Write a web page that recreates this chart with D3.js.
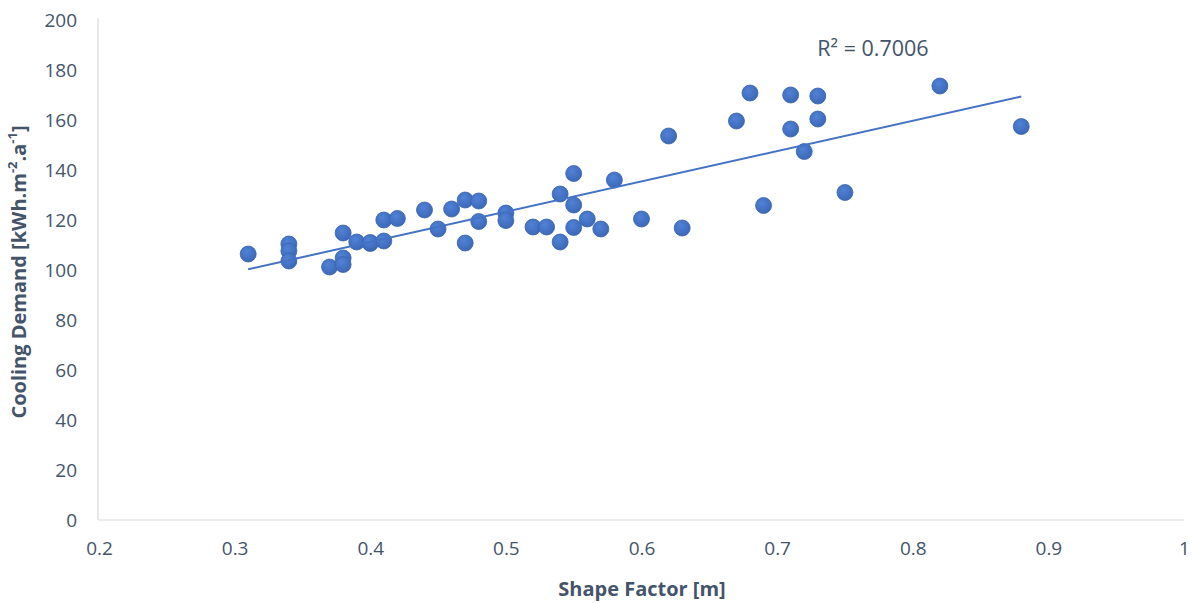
<!DOCTYPE html>
<html>
<head>
<meta charset="utf-8">
<script src="https://cdn.jsdelivr.net/npm/d3@7"></script>
<style>
  html, body { margin: 0; padding: 0; background: #fff; }
  svg { display: block; }
  text { font-family: "Open Sans", "Noto Sans", sans-serif; fill: #44546a; }
</style>
</head>
<body>
<svg id="chart" width="1192" height="603"></svg>
<script>
// Shape factor [m] of each building
const shapeFactor = [
  0.31, 0.34, 0.34, 0.34, 0.37, 0.38, 0.38, 0.38, 0.39, 0.40,
  0.40, 0.41, 0.41, 0.42, 0.44, 0.45, 0.46, 0.47, 0.47, 0.48,
  0.48, 0.50, 0.50, 0.52, 0.53, 0.54, 0.54, 0.55, 0.55, 0.55,
  0.56, 0.57, 0.58, 0.60, 0.62, 0.63, 0.67, 0.68, 0.69, 0.71,
  0.71, 0.72, 0.73, 0.73, 0.75, 0.82, 0.88
];
// Cooling demand [kWh.m-2.a-1] of the same buildings
const coolingDemand = [
  106.4, 110.4, 107.6, 103.6, 101.2, 114.8, 104.8, 102.2, 111.2, 110.6,
  111.0, 111.6, 120.0, 120.6, 124.0, 116.4, 124.4, 128.0, 110.8, 127.6,
  119.4, 122.8, 119.8, 117.2, 117.2, 130.4, 111.2, 138.6, 126.0, 117.0,
  120.4, 116.4, 136.0, 120.4, 153.6, 116.8, 159.6, 170.8, 125.8, 170.0,
  156.4, 147.4, 169.6, 160.4, 131.0, 173.6, 157.4
];
const xTicks = [0.2, 0.3, 0.4, 0.5, 0.6, 0.7, 0.8, 0.9, 1];
const yTicks = [0, 20, 40, 60, 80, 100, 120, 140, 160, 180, 200];
const r2Label = "R² = 0.7006";

const points = shapeFactor.map((x, i) => ({ x, y: coolingDemand[i] }));

const svg = d3.select("#chart");
const plot = { left: 98, right: 1184, top: 20, bottom: 520 };

const x = d3.scaleLinear().domain([0.2, 1]).range([plot.left + 1, plot.right]);
const y = d3.scaleLinear().domain([0, 200]).range([plot.bottom, plot.top]);

// Axis lines
svg.append("line")
  .attr("x1", plot.left).attr("x2", plot.left).attr("y1", plot.top - 2).attr("y2", plot.bottom)
  .attr("stroke", "#d9d9d9").attr("stroke-width", 1.2);
svg.append("line")
  .attr("x1", plot.left).attr("x2", plot.right).attr("y1", plot.bottom).attr("y2", plot.bottom)
  .attr("stroke", "#d9d9d9").attr("stroke-width", 1.2);

// Tick labels
const yAxis = d3.axisLeft(y).tickValues(yTicks).tickSize(0).tickPadding(21).tickFormat(d3.format("d"));
const yG = svg.append("g").attr("transform", `translate(${plot.left},0)`).call(yAxis);
yG.select(".domain").remove();

const xAxis = d3.axisBottom(x).tickValues(xTicks).tickSize(0).tickPadding(22)
  .tickFormat(d => d === 1 ? "1" : d3.format(".1f")(d));
const xG = svg.append("g").attr("transform", `translate(0,${plot.bottom})`).call(xAxis);
xG.select(".domain").remove();

svg.selectAll("g").attr("font-family", null).attr("font-size", null);
svg.selectAll(".tick text").style("font-size", "19px").attr("fill", "#44546a");

// Axis titles
svg.append("text")
  .attr("x", 642).attr("y", 596)
  .attr("text-anchor", "middle")
  .style("font-size", "20px").style("font-weight", "bold")
  .text("Shape Factor [m]");

const yTitle = svg.append("text")
  .attr("transform", `translate(26,${(plot.top + plot.bottom) / 2 + 2}) rotate(-90)`)
  .attr("text-anchor", "middle")
  .style("font-size", "20px").style("font-weight", "bold");
yTitle.append("tspan").text("Cooling Demand [kWh.m");
yTitle.append("tspan").attr("baseline-shift", "super").style("font-size", "13px").text("-2");
yTitle.append("tspan").text(".a");
yTitle.append("tspan").attr("baseline-shift", "super").style("font-size", "13px").text("-1");
yTitle.append("tspan").text("]");

// Marker shading
const defs = svg.append("defs");
const grad = defs.append("radialGradient").attr("id", "dot")
  .attr("cx", "40%").attr("cy", "35%").attr("r", "65%");
grad.append("stop").attr("offset", "0%").attr("stop-color", "#5082d6");
grad.append("stop").attr("offset", "100%").attr("stop-color", "#3d68b8");

// Linear least-squares trendline
const mx = d3.mean(shapeFactor), my = d3.mean(coolingDemand);
const slope = d3.sum(points, p => (p.x - mx) * (p.y - my)) / d3.sum(points, p => (p.x - mx) ** 2);
const intercept = my - slope * mx;
const [xMin, xMax] = d3.extent(shapeFactor);

// Points
svg.append("g").selectAll("circle").data(points).join("circle")
  .attr("cx", d => x(d.x)).attr("cy", d => y(d.y)).attr("r", 8)
  .attr("fill", "url(#dot)").attr("stroke", "#3a64b0").attr("stroke-width", 0.8);

svg.append("line")
  .attr("x1", x(xMin)).attr("y1", y(intercept + slope * xMin))
  .attr("x2", x(xMax)).attr("y2", y(intercept + slope * xMax))
  .attr("stroke", "#4472c4").attr("stroke-width", 2);

// R² annotation
svg.append("text")
  .attr("x", 873).attr("y", 56)
  .attr("text-anchor", "middle")
  .style("font-size", "21.5px")
  .text(r2Label);
</script>
</body>
</html>
